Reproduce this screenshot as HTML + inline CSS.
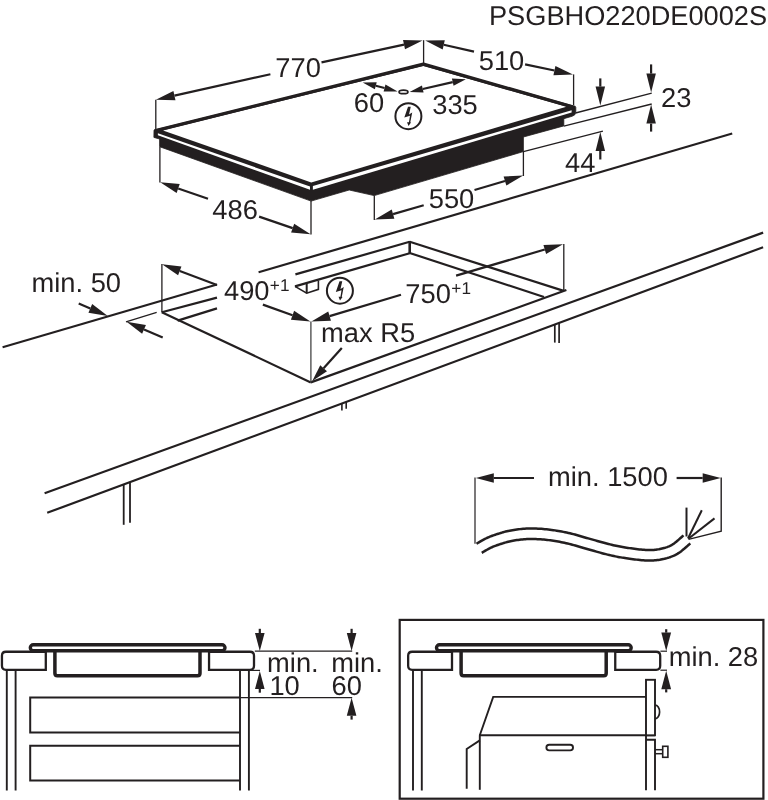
<!DOCTYPE html>
<html><head><meta charset="utf-8"><title>PSGBHO220DE0002S</title>
<style>
html,body{margin:0;padding:0;background:#fff;}
svg{display:block;will-change:transform;}
text{text-rendering:geometricPrecision;font-family:"Liberation Sans",sans-serif;fill:#231f20;}
</style></head>
<body>
<svg width="768" height="800" viewBox="0 0 768 800">
<rect width="768" height="800" fill="#fff"/>
<text x="488.97" y="25.4" font-size="27.2" text-anchor="start" >PSGBHO220DE0002S</text>
<path d="M154 130.2 L423.4 64 L573.4 106 L575.2 106.2 L575.8 107.4 L575.8 112.6 L574.6 115 L572 116.3 L563.8 118.7 L563.8 125.9 L523.4 137 L523.4 151.6 L374.2 195.6 L349.2 190 L311.1 201.1 L159.6 146.7 L159.6 139 L153.9 137.4 Z" fill="#231f20" stroke="#231f20" stroke-width="0.8" stroke-linejoin="round"/>
<path d="M163 130.4 L423.4 65.9 L566.4 106.7 L311.25 182.4 Z" fill="#ffffff" stroke="none" stroke-width="0" stroke-linejoin="miter"/>
<path d="M155.6 130.5 L423.4 64.2 L573.4 107" fill="none" stroke="#231f20" stroke-width="3.3" stroke-linejoin="round" stroke-linecap="round"/>
<path d="M157.9 133.3 L310 186.5 L310 189.8 L157.9 135.3 Z" fill="#ffffff" stroke="none" stroke-width="0" stroke-linejoin="miter"/>
<path d="M312.9 185.9 L571.6 110.3 L571.6 112.4 L312.9 189.8 Z" fill="#ffffff" stroke="none" stroke-width="0" stroke-linejoin="miter"/>
<line x1="155.8" y1="99.8" x2="155.8" y2="129" stroke="#231f20" stroke-width="1.3" stroke-linecap="butt"/>
<line x1="423.6" y1="40.2" x2="423.6" y2="63" stroke="#231f20" stroke-width="1.3" stroke-linecap="butt"/>
<line x1="573.6" y1="74.4" x2="573.6" y2="105" stroke="#231f20" stroke-width="1.3" stroke-linecap="butt"/>
<line x1="159.9" y1="147" x2="159.9" y2="182.4" stroke="#231f20" stroke-width="1.3" stroke-linecap="butt"/>
<line x1="311" y1="201" x2="311" y2="234.6" stroke="#231f20" stroke-width="1.3" stroke-linecap="butt"/>
<line x1="374.3" y1="195.5" x2="374.3" y2="220" stroke="#231f20" stroke-width="1.3" stroke-linecap="butt"/>
<line x1="523.4" y1="151" x2="523.4" y2="176" stroke="#231f20" stroke-width="1.3" stroke-linecap="butt"/>
<polygon points="155.9,99.8 173.41,91.02 175.48,100.29" fill="#231f20"/>
<line x1="270.4" y1="74.2" x2="174.44" y2="95.65" stroke="#231f20" stroke-width="2.2" stroke-linecap="butt"/>
<polygon points="422.6,40.6 405.02,49.23 403.03,39.94" fill="#231f20"/>
<line x1="321.5" y1="62.3" x2="404.02" y2="44.59" stroke="#231f20" stroke-width="2.2" stroke-linecap="butt"/>
<text x="275.31" y="76.6" font-size="27.3" text-anchor="start" >770</text>
<polygon points="425.2,40.6 444.78,40.14 442.69,49.41" fill="#231f20"/>
<line x1="474" y1="51.6" x2="443.73" y2="44.78" stroke="#231f20" stroke-width="2.2" stroke-linecap="butt"/>
<polygon points="573,74.5 553.43,75.19 555.41,65.9" fill="#231f20"/>
<line x1="525.1" y1="64.3" x2="554.42" y2="70.54" stroke="#231f20" stroke-width="2.2" stroke-linecap="butt"/>
<text x="478.71" y="70" font-size="27.3" text-anchor="start" >510</text>
<polygon points="160.2,182.3 179.71,183.97 176.63,192.96" fill="#231f20"/>
<line x1="208" y1="198.7" x2="178.17" y2="188.47" stroke="#231f20" stroke-width="2.2" stroke-linecap="butt"/>
<polygon points="310.6,234.3 291.09,232.62 294.18,223.63" fill="#231f20"/>
<line x1="259.1" y1="216.6" x2="292.63" y2="228.12" stroke="#231f20" stroke-width="2.2" stroke-linecap="butt"/>
<text x="212.37" y="218.7" font-size="27.3" text-anchor="start" >486</text>
<polygon points="374.8,219.4 391.74,209.57 394.37,218.7" fill="#231f20"/>
<line x1="423.7" y1="205.3" x2="393.06" y2="214.14" stroke="#231f20" stroke-width="2.2" stroke-linecap="butt"/>
<polygon points="523.2,175.6 506.33,185.54 503.63,176.43" fill="#231f20"/>
<line x1="474.5" y1="190" x2="504.98" y2="180.99" stroke="#231f20" stroke-width="2.2" stroke-linecap="butt"/>
<text x="428.71" y="208" font-size="27.3" text-anchor="start" >550</text>
<polygon points="397.6,91.4 383.6,91.61 385.45,84.45" fill="#231f20"/>
<polygon points="362.7,82.4 376.7,82.19 374.85,89.35" fill="#231f20"/>
<line x1="375.77" y1="85.77" x2="384.53" y2="88.03" stroke="#231f20" stroke-width="2.2" stroke-linecap="butt"/>
<polygon points="465.9,79.2 453.56,85.8 451.92,78.58" fill="#231f20"/>
<polygon points="409.6,92 421.94,85.4 423.58,92.62" fill="#231f20"/>
<line x1="422.76" y1="89.01" x2="452.74" y2="82.19" stroke="#231f20" stroke-width="2.2" stroke-linecap="butt"/>
<ellipse cx="403.5" cy="91.9" rx="4.4" ry="1.8" fill="#fff" stroke="#231f20" stroke-width="1.8"/>
<text x="353.71" y="112.2" font-size="27.3" text-anchor="start" >60</text>
<text x="432.26" y="113.6" font-size="27.3" text-anchor="start" >335</text>
<circle cx="408.4" cy="116.2" r="13" fill="#fff" stroke="#231f20" stroke-width="2.0"/>
<polygon points="408.03,106.67 410.75,106.67 409.02,114.6 412.24,112.6 410.3,122.2 411,122.5 408.52,125.98 407.04,122.17 408.95,122.2 410,115.83 404.32,117.56" fill="#231f20"/>
<line x1="575.5" y1="113" x2="651.7" y2="93.2" stroke="#231f20" stroke-width="1.3" stroke-linecap="butt"/>
<line x1="563.8" y1="126.2" x2="651.7" y2="104" stroke="#231f20" stroke-width="1.3" stroke-linecap="butt"/>
<line x1="523.4" y1="151.6" x2="602.9" y2="131.2" stroke="#231f20" stroke-width="1.3" stroke-linecap="butt"/>
<polygon points="600.3,105.6 595.55,86.6 605.05,86.6" fill="#231f20"/>
<line x1="600.3" y1="78.4" x2="600.3" y2="86.6" stroke="#231f20" stroke-width="2.2" stroke-linecap="butt"/>
<polygon points="651.1,92.6 646.35,73.6 655.85,73.6" fill="#231f20"/>
<line x1="651.1" y1="64.4" x2="651.1" y2="73.6" stroke="#231f20" stroke-width="2.2" stroke-linecap="butt"/>
<polygon points="651.1,104.6 655.85,123.6 646.35,123.6" fill="#231f20"/>
<line x1="651.1" y1="131.6" x2="651.1" y2="123.6" stroke="#231f20" stroke-width="2.2" stroke-linecap="butt"/>
<polygon points="600.3,132 605.05,151 595.55,151" fill="#231f20"/>
<line x1="600.3" y1="159.5" x2="600.3" y2="151" stroke="#231f20" stroke-width="2.2" stroke-linecap="butt"/>
<text x="661.03" y="107.3" font-size="27.3" text-anchor="start" >23</text>
<text x="565.07" y="171.8" font-size="27.3" text-anchor="start" >44</text>
<line x1="2.6" y1="347.3" x2="217" y2="284.5" stroke="#231f20" stroke-width="2.2" stroke-linecap="butt"/>
<line x1="258.6" y1="272.3" x2="732.2" y2="133.5" stroke="#231f20" stroke-width="2.2" stroke-linecap="butt"/>
<line x1="44.6" y1="493.3" x2="763.1" y2="232.6" stroke="#231f20" stroke-width="2.2" stroke-linecap="butt"/>
<line x1="47.2" y1="512.8" x2="763.1" y2="247.2" stroke="#231f20" stroke-width="2.2" stroke-linecap="butt"/>
<line x1="123.7" y1="484.6" x2="123.7" y2="524.8" stroke="#231f20" stroke-width="1.8" stroke-linecap="butt"/>
<line x1="130" y1="482.4" x2="130" y2="522.8" stroke="#231f20" stroke-width="1.8" stroke-linecap="butt"/>
<line x1="554.8" y1="324.8" x2="554.8" y2="342.6" stroke="#231f20" stroke-width="1.7" stroke-linecap="butt"/>
<line x1="559.1" y1="323" x2="559.1" y2="343" stroke="#231f20" stroke-width="1.7" stroke-linecap="butt"/>
<line x1="341.9" y1="403.5" x2="341.9" y2="410.5" stroke="#231f20" stroke-width="1.6" stroke-linecap="butt"/>
<line x1="346.2" y1="402" x2="346.2" y2="408.8" stroke="#231f20" stroke-width="1.6" stroke-linecap="butt"/>
<line x1="161.8" y1="312.2" x2="310.8" y2="382.4" stroke="#231f20" stroke-width="2.2" stroke-linecap="butt"/>
<line x1="310.8" y1="382.4" x2="566.4" y2="290" stroke="#231f20" stroke-width="2.2" stroke-linecap="butt"/>
<line x1="409.7" y1="241.8" x2="563.7" y2="290.9" stroke="#231f20" stroke-width="2.2" stroke-linecap="butt"/>
<line x1="161.8" y1="312.2" x2="217" y2="297.6" stroke="#231f20" stroke-width="2.2" stroke-linecap="butt"/>
<line x1="295.4" y1="274.4" x2="409.7" y2="241.8" stroke="#231f20" stroke-width="2.2" stroke-linecap="butt"/>
<line x1="177.6" y1="320.6" x2="217" y2="308.4" stroke="#231f20" stroke-width="2.2" stroke-linecap="butt"/>
<line x1="295" y1="286.4" x2="409.7" y2="253.2" stroke="#231f20" stroke-width="2.2" stroke-linecap="butt"/>
<line x1="409.7" y1="241" x2="409.7" y2="253.8" stroke="#231f20" stroke-width="2.6" stroke-linecap="butt"/>
<line x1="409.7" y1="253" x2="544" y2="297" stroke="#231f20" stroke-width="2.2" stroke-linecap="butt"/>
<path d="M295 286.4 L306.7 293.2 L318.4 289.3 L318.4 280.6" fill="none" stroke="#231f20" stroke-width="1.6" stroke-linejoin="miter"/>
<line x1="306.7" y1="283.4" x2="306.7" y2="293.2" stroke="#231f20" stroke-width="2" stroke-linecap="butt"/>
<line x1="161.9" y1="264" x2="161.9" y2="312.2" stroke="#231f20" stroke-width="1.3" stroke-linecap="butt"/>
<line x1="310.9" y1="321.5" x2="310.9" y2="382.4" stroke="#444" stroke-width="1.3" stroke-linecap="butt"/>
<line x1="563.8" y1="244" x2="563.8" y2="290.9" stroke="#231f20" stroke-width="1.3" stroke-linecap="butt"/>
<polygon points="162,264.2 181.45,266.48 178.09,275.36" fill="#231f20"/>
<line x1="217" y1="285" x2="179.77" y2="270.92" stroke="#231f20" stroke-width="2.2" stroke-linecap="butt"/>
<polygon points="310.4,321.6 290.91,319.67 294.11,310.73" fill="#231f20"/>
<line x1="262.9" y1="304.6" x2="292.51" y2="315.2" stroke="#231f20" stroke-width="2.2" stroke-linecap="butt"/>
<text x="223.97" y="300.2" font-size="27.3" text-anchor="start" >490</text>
<text x="269.86" y="291.1" font-size="17.2" text-anchor="start" >+1</text>
<polygon points="311.4,321.6 328.24,311.6 330.96,320.71" fill="#231f20"/>
<line x1="401" y1="294.8" x2="329.6" y2="316.16" stroke="#231f20" stroke-width="2.2" stroke-linecap="butt"/>
<polygon points="563,244.2 546.11,254.11 543.43,245" fill="#231f20"/>
<line x1="456.1" y1="275.6" x2="544.77" y2="249.55" stroke="#231f20" stroke-width="2.2" stroke-linecap="butt"/>
<text x="405.31" y="303.1" font-size="27.3" text-anchor="start" >750</text>
<text x="451.36" y="293.7" font-size="17.2" text-anchor="start" >+1</text>
<circle cx="339.9" cy="290.7" r="13" fill="#fff" stroke="#231f20" stroke-width="2.0"/>
<polygon points="339.53,281.17 342.25,281.17 340.52,289.1 343.74,287.1 341.8,296.7 342.5,297 340.02,300.48 338.54,296.67 340.45,296.7 341.5,290.33 335.82,292.06" fill="#231f20"/>
<text x="321.1" y="341.9" font-size="27.3" text-anchor="start" >max R5</text>
<polygon points="312.3,381 320.25,365.31 326.97,371.3" fill="#231f20"/>
<line x1="341.8" y1="347.9" x2="323.61" y2="368.31" stroke="#231f20" stroke-width="2.2" stroke-linecap="butt"/>
<text x="31.5" y="291.5" font-size="27.3" text-anchor="start" >min. 50</text>
<polygon points="107.8,315.9 88.46,312.82 92.18,304.08" fill="#231f20"/>
<line x1="78.7" y1="303.5" x2="90.32" y2="308.45" stroke="#231f20" stroke-width="2.2" stroke-linecap="butt"/>
<polygon points="126.6,321.8 145.91,325.07 142.1,333.77" fill="#231f20"/>
<line x1="162.7" y1="337.6" x2="144.01" y2="329.42" stroke="#231f20" stroke-width="2.2" stroke-linecap="butt"/>
<line x1="126" y1="321.9" x2="156.7" y2="312.3" stroke="#231f20" stroke-width="1.3" stroke-linecap="butt"/>
<line x1="475" y1="477.5" x2="475" y2="543.8" stroke="#231f20" stroke-width="1.2" stroke-linecap="butt"/>
<path d="M721.2 477.5 L721.2 531.2 L688.5 539.4" fill="none" stroke="#231f20" stroke-width="1.4" />
<polygon points="475.8,478 493.8,473.25 493.8,482.75" fill="#231f20"/>
<line x1="534" y1="478" x2="493.8" y2="478" stroke="#231f20" stroke-width="2.2" stroke-linecap="butt"/>
<polygon points="720.7,478 702.7,482.75 702.7,473.25" fill="#231f20"/>
<line x1="676.6" y1="478" x2="702.7" y2="478" stroke="#231f20" stroke-width="2.2" stroke-linecap="butt"/>
<text x="548" y="486.25" font-size="27.3" text-anchor="start" >min. 1500</text>
<path d="M476.5 543.75 L476.95 543.49 L477.5 543.17 L478.14 542.78 L478.87 542.35 L479.66 541.88 L480.5 541.38 L481.37 540.87 L482.27 540.36 L483.18 539.85 L484.08 539.37 L484.96 538.91 L485.8 538.5 L486.62 538.12 L487.43 537.75 L488.23 537.39 L489.04 537.04 L489.85 536.71 L490.68 536.37 L491.53 536.04 L492.41 535.72 L493.31 535.39 L494.25 535.06 L495.22 534.73 L496.25 534.4 L497.32 534.06 L498.41 533.7 L499.54 533.34 L500.71 532.98 L501.9 532.62 L503.12 532.26 L504.36 531.91 L505.64 531.57 L506.94 531.25 L508.27 530.94 L509.62 530.66 L511 530.4 L512.41 530.16 L513.86 529.93 L515.34 529.7 L516.85 529.5 L518.39 529.3 L519.95 529.12 L521.53 528.97 L523.12 528.83 L524.73 528.71 L526.35 528.61 L527.97 528.54 L529.6 528.5 L531.24 528.48 L532.9 528.49 L534.58 528.53 L536.28 528.58 L537.99 528.66 L539.71 528.76 L541.44 528.87 L543.16 529.01 L544.89 529.16 L546.6 529.33 L548.31 529.51 L550 529.7 L551.68 529.91 L553.36 530.14 L555.03 530.38 L556.7 530.65 L558.36 530.93 L560.02 531.23 L561.69 531.54 L563.35 531.86 L565.01 532.2 L566.67 532.56 L568.33 532.92 L570 533.3 L571.66 533.7 L573.31 534.11 L574.96 534.55 L576.6 535.01 L578.25 535.48 L579.89 535.96 L581.55 536.44 L583.21 536.94 L584.88 537.43 L586.57 537.93 L588.27 538.42 L590 538.9 L591.77 539.39 L593.58 539.9 L595.43 540.42 L597.31 540.95 L599.19 541.48 L601.08 542.01 L602.96 542.52 L604.8 543.03 L606.61 543.51 L608.38 543.98 L610.08 544.41 L611.7 544.8 L613.24 545.16 L614.7 545.49 L616.09 545.8 L617.43 546.08 L618.74 546.34 L620.02 546.59 L621.29 546.82 L622.57 547.04 L623.86 547.26 L625.19 547.47 L626.56 547.69 L628 547.9 L629.51 548.12 L631.08 548.34 L632.7 548.57 L634.36 548.79 L636.03 549 L637.71 549.21 L639.37 549.4 L641.01 549.57 L642.61 549.72 L644.15 549.84 L645.62 549.94 L647 550 L648.3 550.04 L649.53 550.05 L650.7 550.04 L651.81 550.01 L652.89 549.97 L653.94 549.89 L654.96 549.8 L655.96 549.69 L656.96 549.55 L657.96 549.39 L658.97 549.21 L660 549 L661.04 548.78 L662.06 548.55 L663.08 548.3 L664.09 548.03 L665.1 547.74 L666.09 547.43 L667.09 547.08 L668.07 546.7 L669.06 546.29 L670.04 545.84 L671.02 545.34 L672 544.8 L673.01 544.17 L674.08 543.43 L675.18 542.6 L676.3 541.7 L677.41 540.78 L678.5 539.84 L679.55 538.91 L680.54 538.03 L681.45 537.21 L682.25 536.48 L682.95 535.87 L683.5 535.4" fill="none" stroke="#231f20" stroke-width="2.5" stroke-linejoin="round"/>
<path d="M481.75 552.84 L482.25 552.55 L482.87 552.19 L483.53 551.79 L484.25 551.36 L485.01 550.91 L485.8 550.44 L486.62 549.97 L487.43 549.51 L488.22 549.06 L488.98 548.65 L489.68 548.29 L490.34 547.97 L491.02 547.65 L491.73 547.32 L492.43 547.01 L493.13 546.72 L493.83 546.42 L494.54 546.14 L495.27 545.86 L496.03 545.57 L496.82 545.29 L497.65 545 L498.53 544.7 L499.49 544.39 L500.53 544.05 L501.61 543.7 L502.7 543.36 L503.8 543.02 L504.9 542.68 L506.01 542.36 L507.13 542.04 L508.25 541.74 L509.39 541.46 L510.53 541.2 L511.67 540.96 L512.86 540.73 L514.13 540.52 L515.46 540.3 L516.83 540.1 L518.22 539.91 L519.64 539.73 L521.07 539.57 L522.51 539.42 L523.97 539.29 L525.42 539.19 L526.88 539.1 L528.34 539.04 L529.79 539 L531.26 538.98 L532.77 538.99 L534.31 539.02 L535.87 539.07 L537.46 539.15 L539.06 539.24 L540.67 539.35 L542.3 539.47 L543.92 539.61 L545.54 539.77 L547.16 539.94 L548.75 540.13 L550.32 540.32 L551.88 540.53 L553.44 540.76 L555 541.01 L556.57 541.27 L558.14 541.55 L559.71 541.85 L561.28 542.16 L562.86 542.48 L564.45 542.82 L566.05 543.17 L567.62 543.53 L569.16 543.89 L570.67 544.28 L572.21 544.69 L573.76 545.12 L575.34 545.57 L576.94 546.03 L578.57 546.51 L580.22 547 L581.92 547.5 L583.64 548.01 L585.41 548.52 L587.18 549.01 L588.95 549.5 L590.74 550.01 L592.59 550.53 L594.46 551.06 L596.36 551.59 L598.27 552.12 L600.17 552.65 L602.06 553.17 L603.93 553.67 L605.76 554.14 L607.55 554.6 L609.27 555.01 L610.88 555.39 L612.41 555.74 L613.89 556.06 L615.31 556.36 L616.71 556.64 L618.08 556.91 L619.44 557.16 L620.8 557.39 L622.17 557.62 L623.56 557.85 L624.99 558.07 L626.47 558.29 L628.01 558.51 L629.62 558.74 L631.29 558.97 L633 559.2 L634.73 559.42 L636.48 559.63 L638.23 559.83 L639.97 560.02 L641.69 560.18 L643.38 560.31 L645.03 560.42 L646.61 560.49 L648.09 560.53 L649.49 560.55 L650.86 560.54 L652.19 560.51 L653.49 560.45 L654.77 560.36 L656.03 560.25 L657.28 560.1 L658.51 559.93 L659.72 559.74 L660.93 559.52 L662.12 559.28 L663.3 559.03 L664.47 558.77 L665.67 558.47 L666.89 558.15 L668.13 557.79 L669.4 557.39 L670.68 556.95 L671.98 556.45 L673.29 555.9 L674.61 555.29 L675.94 554.62 L677.33 553.85 L678.8 552.93 L680.25 551.92 L681.62 550.89 L682.93 549.84 L684.2 548.79 L685.39 547.76 L686.52 546.77 L687.55 545.84 L688.47 545.01 L689.25 544.31 L689.84 543.79 L690.3 543.4" fill="none" stroke="#231f20" stroke-width="2.5" stroke-linejoin="round"/>
<line x1="686.5" y1="507.6" x2="686.5" y2="536.5" stroke="#231f20" stroke-width="2" stroke-linecap="butt"/>
<line x1="688" y1="538.5" x2="701.8" y2="510.2" stroke="#231f20" stroke-width="2" stroke-linecap="butt"/>
<line x1="688.4" y1="538.8" x2="714.5" y2="518.4" stroke="#231f20" stroke-width="2" stroke-linecap="butt"/>
<path d="M45.8 651.75 L5.95 651.75 Q1.95 651.75 1.95 655.75 L1.95 665.8 Q1.95 669.8 5.95 669.8 L45.8 669.8 Z" fill="#fff" stroke="#231f20" stroke-width="2.3" />
<path d="M209.05 651.75 L250 651.75 Q254 651.75 254 655.75 L254 665.8 Q254 669.8 250 669.8 L209.05 669.8 Z" fill="#fff" stroke="#231f20" stroke-width="2.3" />
<path d="M54.9 651 L54.9 673.3 Q54.9 675.8 57.4 675.8 L197.5 675.8 Q200 675.8 200 673.3 L200 651" fill="#fff" stroke="#231f20" stroke-width="3.5" />
<rect x="30.3" y="644.8" width="194.7" height="5.9" rx="3.0" fill="#fff" stroke="#231f20" stroke-width="3.4"/>
<line x1="6.8" y1="670.3" x2="6.8" y2="790.5" stroke="#231f20" stroke-width="1.9" stroke-linecap="butt"/>
<line x1="15.6" y1="670.3" x2="15.6" y2="790.5" stroke="#231f20" stroke-width="1.9" stroke-linecap="butt"/>
<line x1="240" y1="670.3" x2="240" y2="790.5" stroke="#231f20" stroke-width="1.9" stroke-linecap="butt"/>
<line x1="248.9" y1="670.3" x2="248.9" y2="790.5" stroke="#231f20" stroke-width="1.9" stroke-linecap="butt"/>
<path d="M240 697.6 L30.2 697.6 L30.2 732.5 L240 732.5" fill="none" stroke="#231f20" stroke-width="2" stroke-linejoin="miter"/>
<path d="M240 745.7 L30.2 745.7 L30.2 780.6 L240 780.6" fill="none" stroke="#231f20" stroke-width="2" stroke-linejoin="miter"/>
<line x1="254.8" y1="651.2" x2="352.2" y2="651.2" stroke="#231f20" stroke-width="1.2" stroke-linecap="butt"/>
<line x1="250" y1="670.4" x2="260" y2="670.4" stroke="#231f20" stroke-width="1.2" stroke-linecap="butt"/>
<line x1="240.3" y1="697.6" x2="352.2" y2="697.6" stroke="#231f20" stroke-width="1.2" stroke-linecap="butt"/>
<polygon points="259.8,651 255,633 264.6,633" fill="#231f20"/>
<line x1="259.8" y1="628.8" x2="259.8" y2="633" stroke="#231f20" stroke-width="2.2" stroke-linecap="butt"/>
<polygon points="259.8,670.9 264.6,688.9 255,688.9" fill="#231f20"/>
<line x1="259.8" y1="692.7" x2="259.8" y2="688.9" stroke="#231f20" stroke-width="2.2" stroke-linecap="butt"/>
<polygon points="351.6,651 346.8,633 356.4,633" fill="#231f20"/>
<line x1="351.6" y1="628.8" x2="351.6" y2="633" stroke="#231f20" stroke-width="2.2" stroke-linecap="butt"/>
<polygon points="351.6,697.8 356.4,715.8 346.8,715.8" fill="#231f20"/>
<line x1="351.6" y1="719.6" x2="351.6" y2="715.8" stroke="#231f20" stroke-width="2.2" stroke-linecap="butt"/>
<text x="267.1" y="672.3" font-size="27.3" text-anchor="start" >min.</text>
<text x="269.43" y="694.8" font-size="27.3" text-anchor="start" >10</text>
<text x="331.2" y="672.3" font-size="27.3" text-anchor="start" >min.</text>
<text x="331.61" y="694.8" font-size="27.3" text-anchor="start" >60</text>
<rect x="399.7" y="619.9" width="363.7" height="178.8" fill="none" stroke="#231f20" stroke-width="2.2"/>
<path d="M452 651.75 L412.15 651.75 Q408.15 651.75 408.15 655.75 L408.15 665.8 Q408.15 669.8 412.15 669.8 L452 669.8 Z" fill="#fff" stroke="#231f20" stroke-width="2.3" />
<path d="M615.25 651.75 L656.2 651.75 Q660.2 651.75 660.2 655.75 L660.2 665.8 Q660.2 669.8 656.2 669.8 L615.25 669.8 Z" fill="#fff" stroke="#231f20" stroke-width="2.3" />
<path d="M461.1 651 L461.1 673.3 Q461.1 675.8 463.6 675.8 L603.7 675.8 Q606.2 675.8 606.2 673.3 L606.2 651" fill="#fff" stroke="#231f20" stroke-width="3.5" />
<rect x="436.5" y="644.8" width="194.7" height="5.9" rx="3.0" fill="#fff" stroke="#231f20" stroke-width="3.4"/>
<line x1="413" y1="670.3" x2="413" y2="790.5" stroke="#231f20" stroke-width="1.9" stroke-linecap="butt"/>
<line x1="421.8" y1="670.3" x2="421.8" y2="790.5" stroke="#231f20" stroke-width="1.9" stroke-linecap="butt"/>
<path d="M646 696.9 L493.2 696.9 L479.8 735.2" fill="none" stroke="#231f20" stroke-width="1.9" stroke-linejoin="miter"/>
<line x1="479" y1="735.3" x2="655" y2="735.3" stroke="#231f20" stroke-width="1.9" stroke-linecap="butt"/>
<line x1="479.8" y1="735.2" x2="479.8" y2="789.8" stroke="#231f20" stroke-width="1.9" stroke-linecap="butt"/>
<path d="M479.8 740.4 L466.7 748.9 L466.7 788.8" fill="none" stroke="#231f20" stroke-width="1.9" stroke-linejoin="miter"/>
<rect x="546.4" y="744.8" width="26.6" height="5.6" rx="2.8" fill="#fff" stroke="#231f20" stroke-width="1.9"/>
<rect x="646.0" y="679.8" width="9.0" height="55.5" fill="#fff" stroke="#231f20" stroke-width="1.9"/>
<path d="M655.0 705.0 A4.6 6.9 0 0 1 655.0 718.8" fill="none" stroke="#231f20" stroke-width="1.7" />
<line x1="646" y1="735.3" x2="646" y2="790.3" stroke="#231f20" stroke-width="1.9" stroke-linecap="butt"/>
<path d="M646 739.7 L655 739.7 L655 790.3" fill="none" stroke="#231f20" stroke-width="1.9" stroke-linejoin="miter"/>
<rect x="662.7" y="746.3" width="5.2" height="11.0" fill="#fff" stroke="#231f20" stroke-width="1.6"/>
<line x1="655" y1="749.7" x2="662.7" y2="749.7" stroke="#231f20" stroke-width="1.5" stroke-linecap="butt"/>
<line x1="655" y1="753.7" x2="662.7" y2="753.7" stroke="#231f20" stroke-width="1.5" stroke-linecap="butt"/>
<line x1="660.4" y1="651.2" x2="667" y2="651.2" stroke="#231f20" stroke-width="1.2" stroke-linecap="butt"/>
<line x1="660.4" y1="670.2" x2="667" y2="670.2" stroke="#231f20" stroke-width="1.2" stroke-linecap="butt"/>
<polygon points="666.2,650.9 661.3,632.6 671.1,632.6" fill="#231f20"/>
<line x1="666.2" y1="629.2" x2="666.2" y2="632.6" stroke="#231f20" stroke-width="2.2" stroke-linecap="butt"/>
<polygon points="666.2,670.7 671.1,689.2 661.3,689.2" fill="#231f20"/>
<line x1="666.2" y1="692.4" x2="666.2" y2="689.2" stroke="#231f20" stroke-width="2.2" stroke-linecap="butt"/>
<text x="668.7" y="666.3" font-size="27.3" text-anchor="start" >min. 28</text>
</svg>
</body></html>
